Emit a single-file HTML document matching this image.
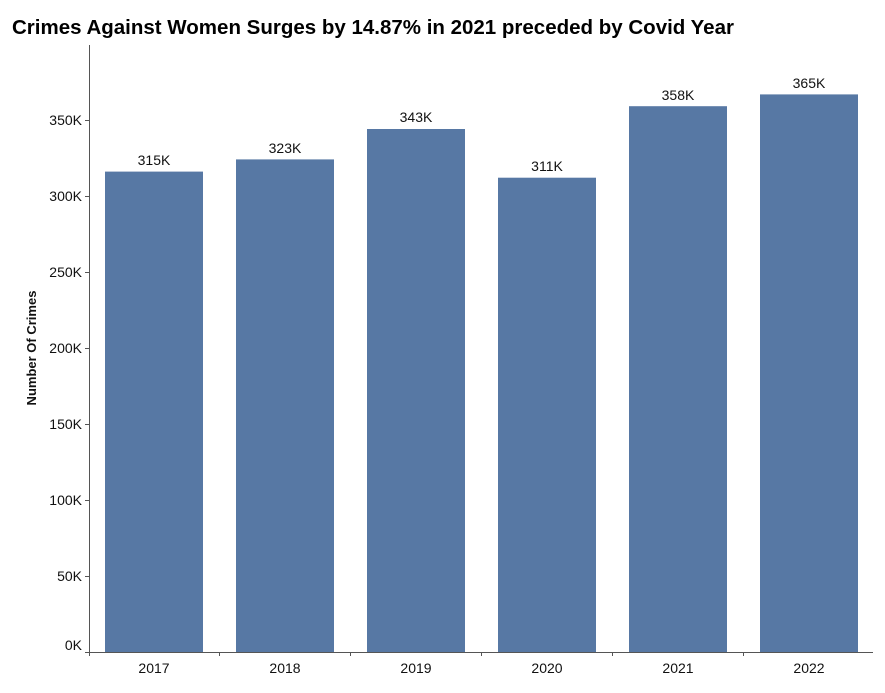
<!DOCTYPE html>
<html><head><style>body{margin:0;background:#fff;}svg text{font-family:"Liberation Sans",sans-serif;}</style></head>
<body>
<svg width="885" height="688" xmlns="http://www.w3.org/2000/svg">
<text x="12" y="34" font-size="20.5" font-weight="bold" fill="#000">Crimes Against Women Surges by 14.87% in 2021 preceded by Covid Year</text>
<g fill="#5778a4">
<rect x="105" y="171.6" width="98" height="480.4"/>
<rect x="236" y="159.4" width="98" height="492.6"/>
<rect x="367" y="129.0" width="98" height="523"/>
<rect x="498" y="177.7" width="98" height="474.3"/>
<rect x="629" y="106.2" width="98" height="545.8"/>
<rect x="760" y="94.4" width="98" height="557.6"/>
</g>
<g font-size="14" fill="#111" text-anchor="middle">
<text x="154" y="165">315K</text><text x="285" y="153">323K</text><text x="416" y="122">343K</text>
<text x="547" y="171">311K</text><text x="678" y="100">358K</text><text x="809" y="88">365K</text>
</g>
<g stroke="#555" stroke-width="1">
<line x1="89.5" y1="45" x2="89.5" y2="652"/>
<line x1="89" y1="652.5" x2="873" y2="652.5"/>
<line x1="85" y1="652.5" x2="89" y2="652.5"/><line x1="85" y1="576.5" x2="89" y2="576.5"/>
<line x1="85" y1="500.5" x2="89" y2="500.5"/><line x1="85" y1="424.5" x2="89" y2="424.5"/>
<line x1="85" y1="348.5" x2="89" y2="348.5"/><line x1="85" y1="272.5" x2="89" y2="272.5"/>
<line x1="85" y1="196.5" x2="89" y2="196.5"/><line x1="85" y1="120.5" x2="89" y2="120.5"/>
<line x1="219.5" y1="652" x2="219.5" y2="656"/><line x1="350.5" y1="652" x2="350.5" y2="656"/>
<line x1="481.5" y1="652" x2="481.5" y2="656"/><line x1="612.5" y1="652" x2="612.5" y2="656"/>
<line x1="743.5" y1="652" x2="743.5" y2="656"/><line x1="89.5" y1="652" x2="89.5" y2="656"/>
</g>
<g font-size="14" fill="#111" text-anchor="end">
<text x="82" y="650">0K</text><text x="82" y="581">50K</text><text x="82" y="505">100K</text>
<text x="82" y="429">150K</text><text x="82" y="353">200K</text><text x="82" y="277">250K</text>
<text x="82" y="201">300K</text><text x="82" y="125">350K</text>
</g>
<g font-size="14" fill="#111" text-anchor="middle">
<text x="154" y="673">2017</text><text x="285" y="673">2018</text><text x="416" y="673">2019</text>
<text x="547" y="673">2020</text><text x="678" y="673">2021</text><text x="809" y="673">2022</text>
</g>
<text transform="translate(36,348) rotate(-90)" font-size="13" font-weight="bold" text-anchor="middle" fill="#111">Number Of Crimes</text>
</svg>
</body></html>
